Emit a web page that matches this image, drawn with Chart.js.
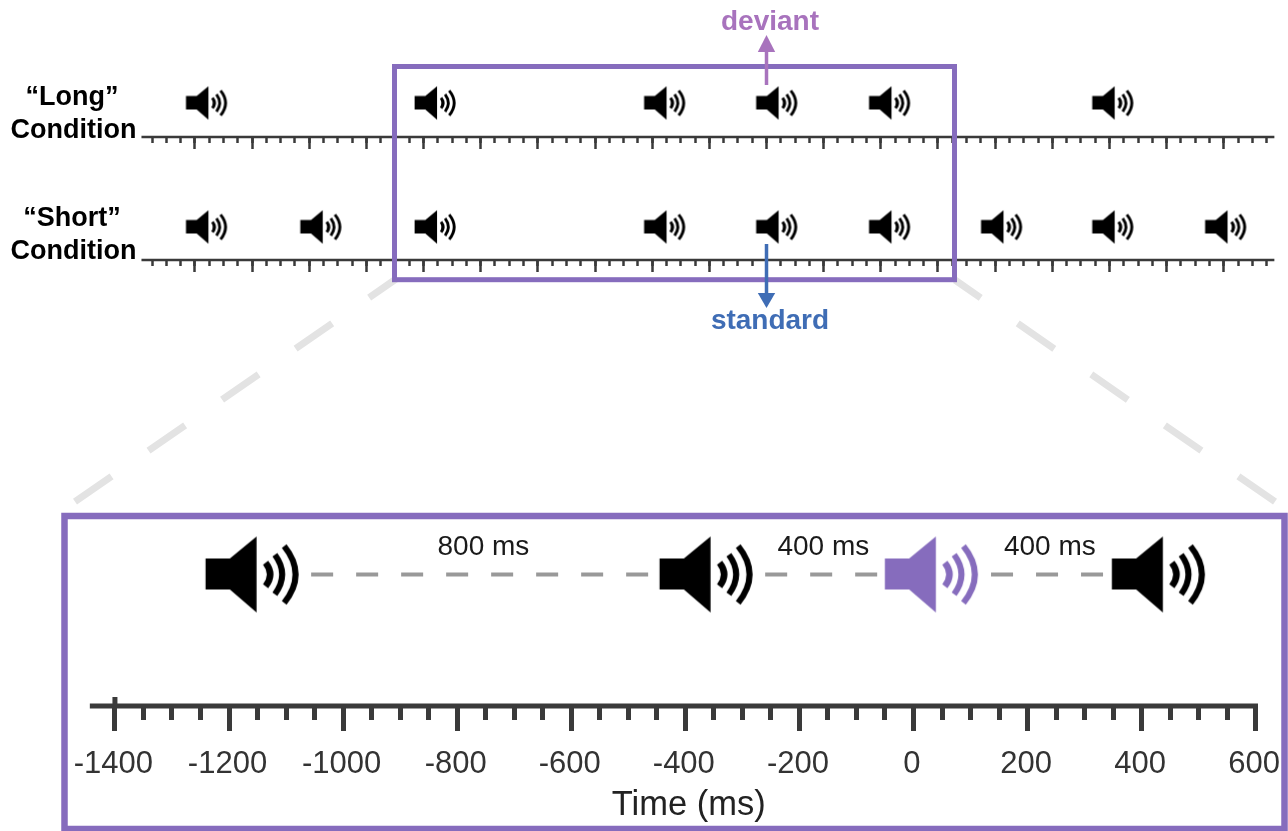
<!DOCTYPE html>
<html>
<head>
<meta charset="utf-8">
<title>Long and short condition timelines</title>
<script src="https://cdn.jsdelivr.net/npm/chart.js@4"></script>
<style>
  html, body { margin: 0; padding: 0; background: #fff; overflow: hidden; }
  canvas { display: block; }
</style>
</head>
<body>
<canvas id="chart" width="1288" height="831"></canvas>
<script>
// tone centres in ms
const longTones = [-1960, -1160, -357, 35, 430, 1211];
const shortTones = [-1960, -1560, -1160, -357, 35, 430, 822, 1211, 1606];
const zoomTones = [-1160, -364];
const zoomDeviant = [31];
const zoomLastTone = [429];

// gaps between the tones in the zoomed panel: [from, to]
const gapSpans = [[-1056, -457], [-260, -58], [136, 343]];
const gapLabels = ['800 ms', '400 ms', '400 ms'];
const gapLabelTimes = [-754, -158, 239];

const overviewMajorTicks = [-2000, -1800, -1600, -1400, -1200, -1000, -800, -600, -400, -200, 0, 200, 400, 600, 800, 1000, 1200, 1400, 1600];
const zoomMajorTicks = [-1400, -1200, -1000, -800, -600, -400, -200, 0, 200, 400, 600];
const overviewSpan = [-2187, 1777];
const zoomSpan = [-1444, 604];
const arrowTime = 0;
const axisTitle = 'Time (ms)';
const axisTitleTime = -394;

const PURPLE = '#866cbd';
const AXIS_DARK = '#3a3a3a';
const FONT = '"Liberation Sans", Arial, sans-serif';

const rowY = { long: 137, short: 260, zoomAxis: 706, zoomTones: 574.5 };
const toneY = { long: 103, short: 227 };

function range(from, to, step) {
  const out = [];
  for (let v = from; v <= to; v += step) out.push(v);
  return out;
}

// speaker icon as a point style, size given as scale of the big one
function makeSpeaker(color, scale, extraWave) {
  const c = document.createElement('canvas');
  c.width = Math.ceil(100 * scale);
  c.height = Math.ceil(84 * scale);
  const ctx = c.getContext('2d');
  ctx.translate(c.width / 2, c.height / 2);
  ctx.scale(scale, scale);
  ctx.fillStyle = color;
  ctx.strokeStyle = color;
  ctx.beginPath();
  ctx.moveTo(-46.3, -16);
  ctx.lineTo(-22, -16);
  ctx.lineTo(4.7, -38);
  ctx.lineTo(4.7, 38);
  ctx.lineTo(-22, 15);
  ctx.lineTo(-46.3, 15);
  ctx.closePath();
  ctx.fill();
  // three sound waves: [tip x, half height, bulge x, width]
  [[13.7, 11.7, 18.3, 5.5], [23, 19.7, 30.3, 5], [32.3, 28.3, 43.7, 5]].forEach(w => {
    ctx.lineWidth = w[3] + extraWave;
    ctx.beginPath();
    ctx.moveTo(w[0], -w[1]);
    ctx.quadraticCurveTo(2 * w[2] - w[0], 0, w[0], w[1]);
    ctx.stroke();
  });
  return c;
}

const smallSpeaker = makeSpeaker('#000', 0.44, 1.5);
const bigSpeaker = makeSpeaker('#000', 1, 1);
const purpleSpeaker = makeSpeaker(PURPLE, 1, 1);

function toneDataset(times, y, xAxisID, icon) {
  return {
    xAxisID, yAxisID: 'y',
    data: times.map(t => ({ x: t, y })),
    showLine: false,
    pointStyle: icon,
    pointRadius: 10
  };
}

function lineDataset(points, xAxisID, color, width, dash) {
  return {
    xAxisID, yAxisID: 'y',
    data: points.map(p => ({ x: p[0], y: p[1] })),
    showLine: true,
    borderColor: color,
    borderWidth: width,
    borderDash: dash || [],
    pointRadius: 0
  };
}

function tickAxis(opts) {
  return {
    axis: 'x',
    type: 'linear',
    display: true,
    min: opts.min,
    max: opts.max,
    position: { y: opts.y },
    border: { display: false },
    grid: {
      display: true,
      drawOnChartArea: false,
      drawTicks: true,
      tickLength: opts.length,
      tickWidth: opts.width,
      tickColor: AXIS_DARK
    },
    afterBuildTicks: scale => { scale.ticks = opts.ticks.map(v => ({ value: v })); },
    // labels sit well inside the canvas, so no inset is needed for them
    afterFit: scale => { scale.paddingLeft = 0; scale.paddingRight = 0; },
    ticks: opts.labels ? {
      display: true,
      autoSkip: false,
      maxRotation: 0,
      padding: 15,
      labelOffset: -1.5,
      color: '#333',
      font: { family: FONT, size: 31 },
      callback: v => String(v)
    } : { display: false, autoSkip: false },
    title: { display: false }
  };
}

function drawText(ctx, text, x, y, font, color) {
  ctx.font = font;
  ctx.fillStyle = color;
  ctx.textAlign = 'center';
  ctx.textBaseline = 'alphabetic';
  ctx.fillText(text, x, y);
}

function drawArrow(ctx, x, fromY, baseY, tipY, color) {
  ctx.strokeStyle = color;
  ctx.fillStyle = color;
  ctx.lineWidth = 3.5;
  ctx.setLineDash([]);
  ctx.beginPath();
  ctx.moveTo(x, fromY);
  ctx.lineTo(x, baseY);
  ctx.stroke();
  ctx.beginPath();
  ctx.moveTo(x, tipY);
  ctx.lineTo(x - 8.7, baseY);
  ctx.lineTo(x + 8.7, baseY);
  ctx.closePath();
  ctx.fill();
}

// frames, zoom guides, arrows and free labels
const annotations = {
  id: 'annotations',
  afterDatasetsDraw(chart) {
    const ctx = chart.ctx;
    const over = chart.scales.overMajorLong;
    const zoom = chart.scales.zoomMajor;
    ctx.save();

    // guides from the small frame to the big one, dashes start at the big frame
    ctx.strokeStyle = '#e3e3e3';
    ctx.lineWidth = 7;
    ctx.setLineDash([44.5, 45]);
    [[75, 501.7, 396, 279], [1275, 501.7, 955, 280]].forEach(g => {
      ctx.beginPath();
      ctx.moveTo(g[0], g[1]);
      ctx.lineTo(g[2], g[3]);
      ctx.stroke();
    });
    ctx.setLineDash([]);

    // frames
    ctx.strokeStyle = PURPLE;
    ctx.lineJoin = 'miter';
    ctx.lineWidth = 5;
    ctx.strokeRect(394.5, 66.5, 560, 213.2);
    ctx.lineWidth = 6.5;
    ctx.strokeRect(64.5, 516, 1220, 313);

    // arrows
    const ax = over.getPixelForValue(arrowTime);
    drawArrow(ctx, ax, 85, 52, 35, '#a873bd');
    drawArrow(ctx, ax, 244, 293, 308, '#3f6db5');

    // labels
    const bold = 'bold 27px ' + FONT;
    const boldLarge = 'bold 28px ' + FONT;
    drawText(ctx, 'deviant', 770, 30, boldLarge, '#a873bd');
    drawText(ctx, 'standard', 770, 329, boldLarge, '#3f6db5');
    drawText(ctx, '\u201cLong\u201d', 72, 105, bold, '#000');
    drawText(ctx, 'Condition', 73.5, 137.5, bold, '#000');
    drawText(ctx, '\u201cShort\u201d', 72, 226, bold, '#000');
    drawText(ctx, 'Condition', 73.5, 259, bold, '#000');

    const regular = '28px ' + FONT;
    gapLabels.forEach((label, i) => {
      drawText(ctx, label, zoom.getPixelForValue(gapLabelTimes[i]), 555, regular, '#1a1a1a');
    });
    drawText(ctx, axisTitle, zoom.getPixelForValue(axisTitleTime), 815, '34.5px ' + FONT, '#222');
    ctx.restore();
  }
};

const overMin = -2682, overMax = 1824.7;
const zoomMin = -1601.5, zoomMax = 656.6;
const overMinor = range(-2150, 1750, 50);
const zoomMinor = range(-1400, 600, 50);

new Chart(document.getElementById('chart'), {
  type: 'scatter',
  data: {
    datasets: [
      lineDataset([[overviewSpan[0], rowY.long], [overviewSpan[1], rowY.long]], 'overMajorLong', AXIS_DARK, 2.5),
      lineDataset([[overviewSpan[0], rowY.short], [overviewSpan[1], rowY.short]], 'overMajorLong', AXIS_DARK, 2.5),
      lineDataset([[zoomSpan[0], rowY.zoomAxis], [zoomSpan[1], rowY.zoomAxis]], 'zoomMajor', AXIS_DARK, 5),
      lineDataset([[zoomMajorTicks[0], 697], [zoomMajorTicks[0], rowY.zoomAxis]], 'zoomMajor', AXIS_DARK, 5),
      lineDataset([[gapSpans[0][0], rowY.zoomTones], [gapSpans[0][1], rowY.zoomTones]], 'zoomMajor', '#999', 4, [22, 23]),
      lineDataset([[gapSpans[1][0], rowY.zoomTones], [gapSpans[1][1], rowY.zoomTones]], 'zoomMajor', '#999', 4, [22, 23]),
      lineDataset([[gapSpans[2][0], rowY.zoomTones], [gapSpans[2][1], rowY.zoomTones]], 'zoomMajor', '#999', 4, [22, 23]),
      toneDataset(longTones, toneY.long, 'overMajorLong', smallSpeaker),
      toneDataset(shortTones, toneY.short, 'overMajorLong', smallSpeaker),
      toneDataset(zoomTones, rowY.zoomTones, 'zoomMajor', bigSpeaker),
      toneDataset(zoomDeviant, rowY.zoomTones, 'zoomMajor', purpleSpeaker),
      toneDataset(zoomLastTone, rowY.zoomTones, 'zoomMajor', bigSpeaker)
    ]
  },
  options: {
    responsive: false,
    animation: false,
    layout: { padding: 0, autoPadding: false },
    plugins: { legend: { display: false }, tooltip: { enabled: false } },
    scales: {
      y: { axis: 'y', type: 'linear', display: false, reverse: true, min: 0, max: 831 },
      overMajorLong: tickAxis({ min: overMin, max: overMax, y: rowY.long, length: 12, width: 2.5, ticks: overviewMajorTicks }),
      overMinorLong: tickAxis({ min: overMin, max: overMax, y: rowY.long, length: 6, width: 2.5, ticks: overMinor }),
      overMajorShort: tickAxis({ min: overMin, max: overMax, y: rowY.short, length: 12, width: 2.5, ticks: overviewMajorTicks }),
      overMinorShort: tickAxis({ min: overMin, max: overMax, y: rowY.short, length: 6, width: 2.5, ticks: overMinor }),
      zoomMajor: tickAxis({ min: zoomMin, max: zoomMax, y: rowY.zoomAxis, length: 25, width: 5, ticks: zoomMajorTicks, labels: true }),
      zoomMinor: tickAxis({ min: zoomMin, max: zoomMax, y: rowY.zoomAxis, length: 14, width: 5, ticks: zoomMinor })
    }
  },
  plugins: [annotations]
});
</script>
</body>
</html>
